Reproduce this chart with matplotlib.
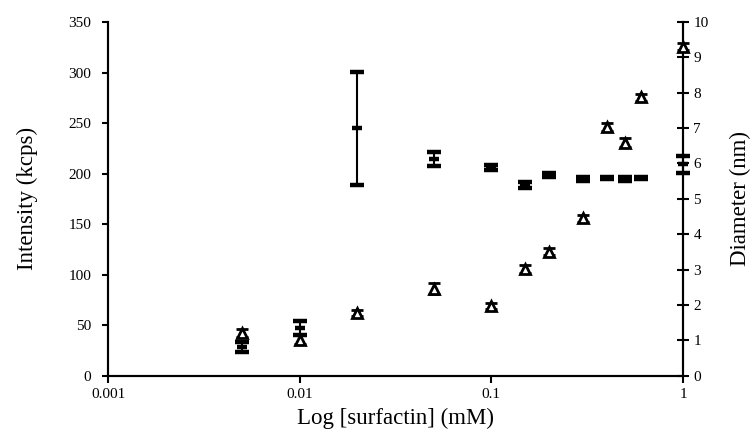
import matplotlib
matplotlib.use("Agg")
import matplotlib.pyplot as plt
from matplotlib.ticker import FixedLocator, FixedFormatter, NullLocator

plt.rcParams['font.family'] = ['Liberation Serif', 'DejaVu Serif']

# Data
conc = [0.005, 0.01, 0.02, 0.05, 0.1, 0.15, 0.2, 0.3, 0.4, 0.5, 0.6, 1.0]
intensity = [28, 47, 245, 214, 206, 189, 199, 195, 196, 195, 196, 209]
intensity_err = [5, 7, 56, 7, 2, 3, 2, 2, 1, 2, 1, 8]
diameter = [1.20, 1.02, 1.77, 2.46, 1.97, 3.01, 3.51, 4.45, 7.03, 6.59, 7.87, 9.30]
diameter_err = [0.12, 0.12, 0.08, 0.15, 0.08, 0.12, 0.1, 0.1, 0.1, 0.12, 0.1, 0.1]

x_ticks = [0.001, 0.01, 0.1, 1]
x_tick_labels = ["0.001", "0.01", "0.1", "1"]
left_ticks = [0, 50, 100, 150, 200, 250, 300, 350]
right_ticks = list(range(0, 11))

fig = plt.figure(figsize=(7.5, 4.37), dpi=100)
ax = fig.add_axes([0.144, 0.1403, 0.7667, 0.8094])
ax2 = ax.twinx()

ax.set_xscale('log')
ax.set_xlim(0.001, 1)
ax.set_ylim(0, 350)
ax2.set_ylim(0, 10)

e1 = ax.errorbar(conc, intensity, yerr=intensity_err, fmt='_', color='black',
                 markersize=7, markeredgewidth=3.2, elinewidth=1.5, capsize=5,
                 capthick=1.5, zorder=3)
e2 = ax2.errorbar(conc, diameter, yerr=diameter_err, fmt='^', color='black',
                  markerfacecolor='white', markeredgecolor='black',
                  markersize=6.5, markeredgewidth=2, elinewidth=1.5, capsize=4,
                  capthick=2, zorder=3)
for e in (e1, e2):
    for art in e.get_children():
        art.set_clip_on(False)

ax.xaxis.set_major_locator(FixedLocator(x_ticks))
ax.xaxis.set_major_formatter(FixedFormatter(x_tick_labels))
ax.xaxis.set_minor_locator(NullLocator())
ax.set_yticks(left_ticks)
ax2.set_yticks(right_ticks)

for a in (ax, ax2):
    for s in a.spines.values():
        s.set_linewidth(1.5)
    a.spines['top'].set_visible(False)

ax.tick_params(axis='x', direction='out', length=5, width=1.5, labelsize=11, pad=4)
ax.tick_params(axis='y', direction='out', length=4, width=1.5, labelsize=11, pad=8)
ax2.tick_params(axis='y', direction='inout', length=9, width=1.5, labelsize=11, pad=3)

ax.set_xlabel("Log [surfactin] (mM)", fontsize=16.5, labelpad=5)
ax.set_ylabel("Intensity (kcps)", fontsize=16.5, labelpad=22)
ax2.set_ylabel("Diameter (nm)", fontsize=16.5, labelpad=15)

fig.savefig("out.png", dpi=100)
